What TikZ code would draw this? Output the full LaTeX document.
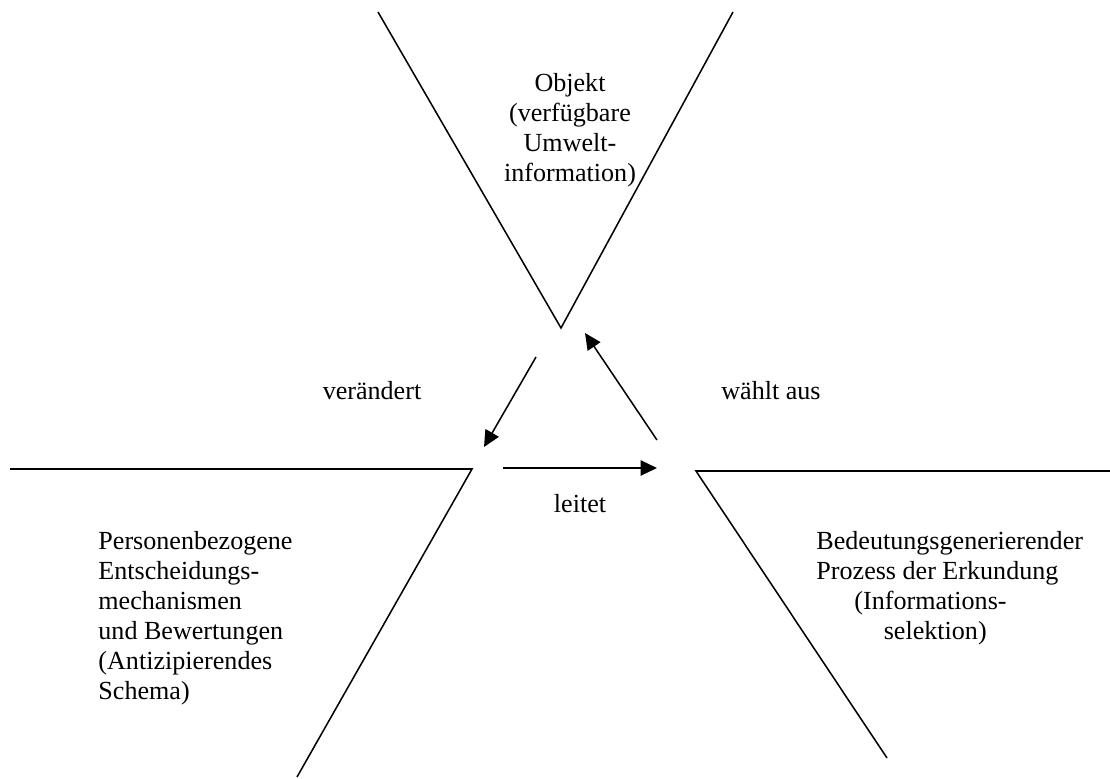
\documentclass[tikz,border=0pt]{standalone}
\usepackage{fontspec}
\setmainfont{Liberation Serif}
\usetikzlibrary{arrows.meta}
\begin{document}
\begin{tikzpicture}[
    x=0.46pt, y=-0.46pt,
    edge/.style={line width=0.7pt},
    flow/.style={line width=0.7pt, -{Triangle[length=7.5pt, width=7pt]}},
    lbl/.style={font=\fontsize{12}{13.8}\selectfont, inner sep=0pt},
    txt/.style={lbl, align=left, anchor=north west},
]
\useasboundingbox (0,0) rectangle (1110,778);

% Objekt (top)
\coordinate (o1) at (378,12);
\coordinate (o2) at (561,328);
\coordinate (o3) at (733,12);
\draw[edge] (o1) -- (o2) -- (o3);
\node[lbl, align=center] (obj) at (570,130) {Objekt\\(verfügbare\\Umwelt-\\information)};

% Schema (left)
\coordinate (s1) at (10,469);
\coordinate (s2) at (472,469);
\coordinate (s3) at (297,777);
\draw[edge] (s1) -- (s2) -- (s3);
\node[txt] (schema) at (98,531) {Personenbezogene\\Entscheidungs-\\mechanismen\\und Bewertungen\\(Antizipierendes\\Schema)};

% Erkundung (right)
\coordinate (e1) at (1110,471);
\coordinate (e2) at (696,471);
\coordinate (e3) at (887,758);
\draw[edge] (e1) -- (e2) -- (e3);
\node[txt] (erk) at (816,531) {Bedeutungsgenerierender\\Prozess der Erkundung\\\hspace*{17.5pt}(Informations-\\\hspace*{31pt}selektion)};

% Kreislauf (center)
\coordinate (v1) at (536,357);
\coordinate (v2) at (484,447);
\coordinate (w1) at (657,440);
\coordinate (w2) at (585,333);
\coordinate (l1) at (503,468);
\coordinate (l2) at (657,468);
\draw[flow] (v1) -- (v2);
\draw[flow] (w1) -- (w2);
\draw[flow] (l1) -- (l2);
\node[lbl] (ver) at (372,391) {verändert};
\node[lbl] (wae) at (771,391) {wählt aus};
\node[lbl] (lei) at (580,504) {leitet};

\end{tikzpicture}
\end{document}
